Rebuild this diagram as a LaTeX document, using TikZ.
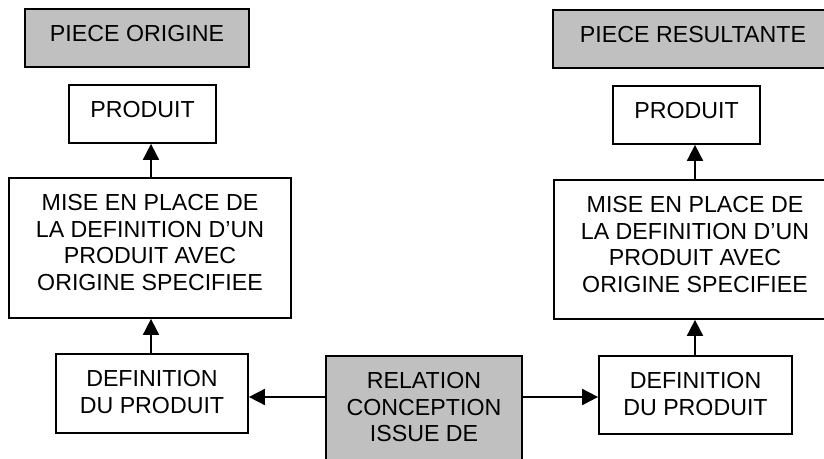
\documentclass[tikz,border=0pt]{standalone}
\usepackage{fontspec}
\setmainfont{Liberation Sans}
\usetikzlibrary{arrows.meta}
\definecolor{boxgray}{HTML}{C0C0C0}
% text block of a box: width and height in px (1px = 0.75pt), top aligned
\newcommand{\boxtext}[3]{%
  \begin{minipage}[c][\dimexpr #2pt*3/4\relax][t]{\dimexpr #1pt*3/4\relax}%
    \centering\vspace*{12.3pt}#3%
  \end{minipage}}
\begin{document}
\begin{tikzpicture}[x=0.75pt, y=-0.75pt,
  box/.style={draw, line width=1.3pt, inner sep=0pt, fill=white,
    font=\fontsize{17.4pt}{20pt}\selectfont},
  greybox/.style={box, fill=boxgray},
  arr/.style={line width=1.3pt, -{Triangle[length=12pt, width=12pt]}}]
\useasboundingbox (0,0) rectangle (824,459);
\clip (0,0) rectangle (824,459);

% left column
\node[greybox] (pieceO) at (137,38)    {\boxtext{224}{58}{PIECE ORIGINE}};
\node[box]     (prodL)  at (142.5,114) {\boxtext{147}{58}{PRODUIT}};
\node[box]     (miseL)  at (150,248)   {\boxtext{282}{140}{MISE EN PLACE DE\\LA DEFINITION D’UN\\PRODUIT AVEC\\ORIGINE SPECIFIEE}};
\node[box]     (defL)   at (152,393.5) {\boxtext{192}{79}{DEFINITION\\DU PRODUIT}};

% relation in the middle
\node[greybox] (rel)    at (424,416)   {\boxtext{196}{120}{RELATION\\CONCEPTION\\ISSUE DE}};

% right column
\node[greybox] (pieceR) at (693,39)    {\boxtext{280}{58}{PIECE RESULTANTE}};
\node[box]     (prodR)  at (686.5,115) {\boxtext{147}{58}{PRODUIT}};
\node[box]     (miseR)  at (695,249.5) {\boxtext{282}{139}{MISE EN PLACE DE\\LA DEFINITION D’UN\\PRODUIT AVEC\\ORIGINE SPECIFIEE}};
\node[box]     (defR)   at (695.5,395) {\boxtext{193}{78}{DEFINITION\\DU PRODUIT}};

% connectors
\draw[arr] (defL.north -| 151,0) -- (miseL.south -| 151,0);
\draw[arr] (miseL.north -| 151,0) -- (prodL.south -| 151,0);
\draw[arr] (defR.north -| 695,0) -- (miseR.south -| 695,0);
\draw[arr] (miseR.north -| 695,0) -- (prodR.south -| 695,0);
\draw[arr] (rel.west |- 0,397) -- (defL.east |- 0,397);
\draw[arr] (rel.east |- 0,397) -- (defR.west |- 0,397);
\end{tikzpicture}
\end{document}
